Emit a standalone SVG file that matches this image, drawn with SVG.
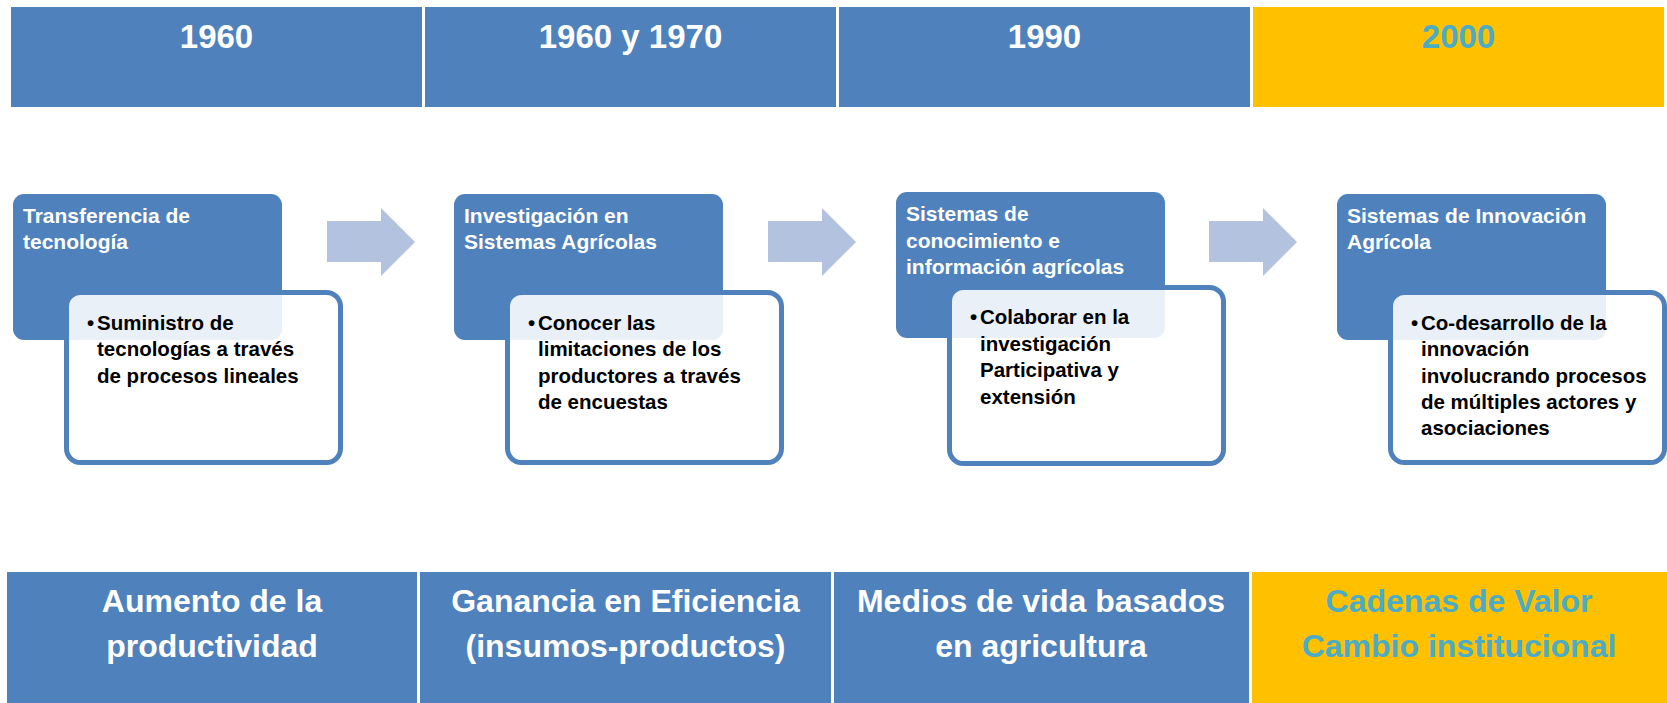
<svg xmlns="http://www.w3.org/2000/svg" width="1667" height="703" viewBox="0 0 1667 703">
<defs>
<style>
.bar{fill:#4F81BD}
.gold{fill:#FFC000}
.bt{font-family:"Liberation Sans",Arial,sans-serif;font-weight:bold;font-size:33px;fill:#fff;text-anchor:middle}
.bb{font-family:"Liberation Sans",Arial,sans-serif;font-weight:bold;font-size:32px;fill:#fff;text-anchor:middle}
.teal{fill:#4BACC6}
.head{fill:#4F81BD}
.card{fill:#fff;fill-opacity:0.88;stroke:#4F81BD;stroke-width:5}
.ht{font-family:"Liberation Sans",Arial,sans-serif;font-weight:bold;font-size:21px;fill:#fff}
.tx{font-family:"Liberation Sans",Arial,sans-serif;font-weight:bold;font-size:20.5px;fill:#000}
.arr{fill:#B3C2DF}
</style>
</defs>
<rect width="1667" height="703" fill="#fff"/>
<g id="top-bars">
<rect class="bar" x="11" y="7" width="411" height="100"/>
<rect class="bar" x="425" y="7" width="411" height="100"/>
<rect class="bar" x="839" y="7" width="411" height="100"/>
<rect class="gold" x="1253" y="7" width="411" height="100"/>
<text class="bt" x="216.5" y="48">1960</text>
<text class="bt" x="630.5" y="48">1960 y 1970</text>
<text class="bt" x="1044.5" y="48">1990</text>
<text class="bt teal" x="1458.5" y="48">2000</text>
</g>
<g id="bottom-bars">
<rect class="bar" x="7" y="572" width="410" height="131"/>
<rect class="bar" x="420" y="572" width="411" height="131"/>
<rect class="bar" x="834" y="572" width="415" height="131"/>
<rect class="gold" x="1252" y="572" width="415" height="131"/>
<text class="bb" x="212" y="612">Aumento de la<tspan x="212" y="657">productividad</tspan></text>
<text class="bb" x="625.5" y="612">Ganancia en Eficiencia<tspan x="625.5" y="657">(insumos-productos)</tspan></text>
<text class="bb" x="1041" y="612">Medios de vida basados<tspan x="1041" y="657">en agricultura</tspan></text>
<text class="bb teal" x="1459" y="612">Cadenas de Valor<tspan x="1459" y="657">Cambio institucional</tspan></text>
</g>
<g id="connectors">
<polygon class="arr" points="327,221 381,221 381,208 415,242 381,276 381,262 327,262"/>
<polygon class="arr" points="768,221 822,221 822,208 856,242 822,276 822,262 768,262"/>
<polygon class="arr" points="1209,221 1263,221 1263,208 1297,242 1263,276 1263,262 1209,262"/>
</g>
<g id="node1">
<rect class="head" x="13" y="194" width="269" height="146" rx="11"/>
<text class="ht" x="23" y="223">Transferencia de<tspan x="23" y="249">tecnología</tspan></text>
<rect class="card" x="66.5" y="292.5" width="274" height="170" rx="14"/>
<text class="tx" y="330"><tspan x="87">•</tspan><tspan x="97">Suministro de</tspan><tspan x="97" y="356">tecnologías a través</tspan><tspan x="97" y="383">de procesos lineales</tspan></text>
</g>
<g id="node2">
<rect class="head" x="454" y="194" width="269" height="146" rx="11"/>
<text class="ht" x="464" y="223">Investigación en<tspan x="464" y="249">Sistemas Agrícolas</tspan></text>
<rect class="card" x="507.5" y="292.5" width="274" height="170" rx="14"/>
<text class="tx" y="330"><tspan x="528">•</tspan><tspan x="538">Conocer las</tspan><tspan x="538" y="356">limitaciones de los</tspan><tspan x="538" y="383">productores a través</tspan><tspan x="538" y="409">de encuestas</tspan></text>
</g>
<g id="node3">
<rect class="head" x="896" y="192" width="269" height="146" rx="11"/>
<text class="ht" x="906" y="221">Sistemas de<tspan x="906" y="248">conocimiento e</tspan><tspan x="906" y="274">información agrícolas</tspan></text>
<rect class="card" x="949.5" y="287.5" width="274" height="176" rx="14"/>
<text class="tx" y="324"><tspan x="970">•</tspan><tspan x="980">Colaborar en la</tspan><tspan x="980" y="351">investigación</tspan><tspan x="980" y="377">Participativa y</tspan><tspan x="980" y="404">extensión</tspan></text>
</g>
<g id="node4">
<rect class="head" x="1337" y="194" width="269" height="146" rx="11"/>
<text class="ht" x="1347" y="223">Sistemas de Innovación<tspan x="1347" y="249">Agrícola</tspan></text>
<rect class="card" x="1390.5" y="292.5" width="274" height="170" rx="14"/>
<text class="tx" y="330"><tspan x="1411">•</tspan><tspan x="1421">Co-desarrollo de la</tspan><tspan x="1421" y="356">innovación</tspan><tspan x="1421" y="383">involucrando procesos</tspan><tspan x="1421" y="409">de múltiples actores y</tspan><tspan x="1421" y="435">asociaciones</tspan></text>
</g>
</svg>
